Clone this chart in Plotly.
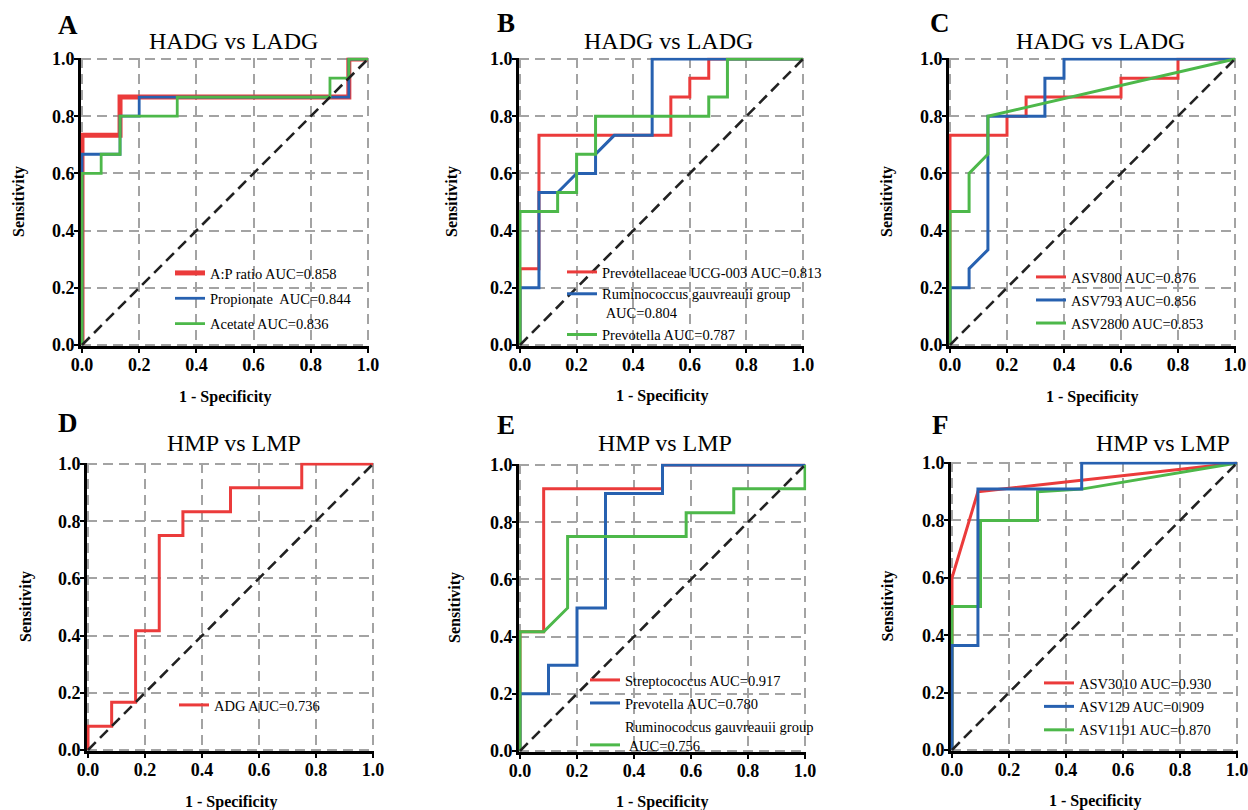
import plotly.graph_objects as go

# ---------------- data ----------------
# Panel A: HADG vs LADG (VFA)
a_ratio_x = [0, 0, 0.133, 0.133, 0.933, 0.933, 1]
a_ratio_y = [0, 0.733, 0.733, 0.867, 0.867, 1, 1]
a_prop_x = [0, 0, 0.133, 0.133, 0.2, 0.2, 0.933, 0.933, 1]
a_prop_y = [0, 0.667, 0.667, 0.8, 0.8, 0.867, 0.867, 1, 1]
a_acet_x = [0, 0, 0.067, 0.067, 0.133, 0.133, 0.333, 0.333, 0.867, 0.867, 0.933, 0.933, 1]
a_acet_y = [0, 0.6, 0.6, 0.667, 0.667, 0.8, 0.8, 0.867, 0.867, 0.933, 0.933, 1, 1]
a_names = ["A:P ratio AUC=0.858", "Propionate  AUC=0.844", "Acetate AUC=0.836"]

# Panel B: HADG vs LADG (genera)
b_ucg_x = [0, 0, 0.067, 0.067, 0.533, 0.533, 0.6, 0.6, 0.667, 0.667, 1]
b_ucg_y = [0, 0.267, 0.267, 0.733, 0.733, 0.867, 0.867, 0.933, 0.933, 1, 1]
b_rum_x = [0, 0, 0.067, 0.067, 0.133, 0.2, 0.267, 0.267, 0.333, 0.467, 0.467, 1]
b_rum_y = [0, 0.2, 0.2, 0.533, 0.533, 0.6, 0.6, 0.667, 0.733, 0.733, 1, 1]
b_prev_x = [0, 0, 0.133, 0.133, 0.2, 0.2, 0.267, 0.267, 0.667, 0.667, 0.733, 0.733, 1]
b_prev_y = [0, 0.467, 0.467, 0.533, 0.533, 0.667, 0.667, 0.8, 0.8, 0.867, 0.867, 1, 1]
b_names = ["Prevotellaceae UCG-003 AUC=0.813",
           "Ruminococcus gauvreauii group<br>\u00a0AUC=0.804",
           "Prevotella AUC=0.787"]

# Panel C: HADG vs LADG (ASVs)
c_800_x = [0, 0, 0.2, 0.2, 0.267, 0.267, 0.6, 0.6, 0.8, 0.8, 1]
c_800_y = [0, 0.733, 0.733, 0.8, 0.8, 0.867, 0.867, 0.933, 0.933, 1, 1]
c_793_x = [0, 0, 0.067, 0.067, 0.133, 0.133, 0.333, 0.333, 0.4, 0.4, 1]
c_793_y = [0, 0.2, 0.2, 0.267, 0.333, 0.8, 0.8, 0.933, 0.933, 1, 1]
c_2800_x = [0, 0, 0.067, 0.067, 0.133, 0.133, 1]
c_2800_y = [0, 0.467, 0.467, 0.6, 0.667, 0.8, 1]
c_names = ["ASV800 AUC=0.876", "ASV793 AUC=0.856", "ASV2800 AUC=0.853"]

# Panel D: HMP vs LMP (ADG)
d_adg_x = [0, 0, 0.083, 0.083, 0.167, 0.167, 0.25, 0.25, 0.333, 0.333, 0.5, 0.5, 0.75, 0.75, 1]
d_adg_y = [0, 0.083, 0.083, 0.167, 0.167, 0.417, 0.417, 0.75, 0.75, 0.833, 0.833, 0.917, 0.917, 1, 1]
d_names = ["ADG AUC=0.736"]

# Panel E: HMP vs LMP (genera)
e_strep_x = [0, 0, 0.083, 0.083, 0.5, 0.5, 1]
e_strep_y = [0, 0.417, 0.417, 0.917, 0.917, 1, 1]
e_prev_x = [0, 0, 0.1, 0.1, 0.2, 0.2, 0.3, 0.3, 0.5, 0.5, 1]
e_prev_y = [0, 0.2, 0.2, 0.3, 0.3, 0.5, 0.5, 0.9, 0.9, 1, 1]
e_rum_x = [0, 0, 0.083, 0.167, 0.167, 0.583, 0.583, 0.75, 0.75, 1, 1]
e_rum_y = [0, 0.417, 0.417, 0.5, 0.75, 0.75, 0.833, 0.833, 0.917, 0.917, 1]
e_names = ["Streptococcus AUC=0.917", "Prevotella AUC=0.780",
           "Ruminococcus gauvreauii group<br>\u00a0AUC=0.756"]

# Panel F: HMP vs LMP (ASVs)
f_3010_x = [0, 0, 0.091, 1]
f_3010_y = [0, 0.6, 0.9, 1]
f_129_x = [0, 0, 0.091, 0.091, 0.455, 0.455, 1]
f_129_y = [0, 0.364, 0.364, 0.909, 0.909, 1, 1]
f_1191_x = [0, 0, 0.1, 0.1, 0.3, 0.3, 0.455, 1]
f_1191_y = [0, 0.5, 0.5, 0.8, 0.8, 0.9, 0.909, 1]
f_names = ["ASV3010 AUC=0.930", "ASV129 AUC=0.909", "ASV1191 AUC=0.870"]

diag_x = [0, 1]
diag_y = [0, 1]
tick_vals = [0, 0.2, 0.4, 0.6, 0.8, 1.0]

# ---------------- styling / layout ----------------
W, H = 1248, 810
SERIF = "Liberation Serif, Times New Roman, serif"
RED, BLUE, GREEN = "#EB3B3B", "#2761B0", "#4DB84A"
GRID = "#A3A3A3"

panels = [
    dict(letter="A", title="HADG vs LADG", box=(82, 368, 59, 345),
         series=[(a_names[0], a_ratio_x, a_ratio_y, RED, 5.0, 1),
                 (a_names[1], a_prop_x, a_prop_y, BLUE, 2.8, 2),
                 (a_names[2], a_acet_x, a_acet_y, GREEN, 2.8, 3)],
         letter_pos=(68, 25), title_pos=(233, 41), ytitle_x=19, xtitle=(225, 397),
         legend=(170, 257), gap=3.5, valign="middle"),
    dict(letter="B", title="HADG vs LADG", box=(520, 803, 59, 345),
         series=[(b_names[0], b_ucg_x, b_ucg_y, RED, 3, 1),
                 (b_names[1], b_rum_x, b_rum_y, BLUE, 3, 2),
                 (b_names[2], b_prev_x, b_prev_y, GREEN, 3, 3)],
         letter_pos=(506, 23), title_pos=(668, 41), ytitle_x=452, xtitle=(662, 396),
         legend=(562, 256), gap=0, valign="top"),
    dict(letter="C", title="HADG vs LADG", box=(950, 1235, 59, 345),
         series=[(c_names[0], c_800_x, c_800_y, RED, 3, 1),
                 (c_names[1], c_793_x, c_793_y, BLUE, 3, 2),
                 (c_names[2], c_2800_x, c_2800_y, GREEN, 3, 3)],
         letter_pos=(940, 23), title_pos=(1100, 41), ytitle_x=887, xtitle=(1092, 397),
         legend=(1031, 261), gap=1.2, valign="middle"),
    dict(letter="D", title="HMP vs LMP", box=(88, 373, 464, 750),
         series=[(d_names[0], d_adg_x, d_adg_y, RED, 3, 1)],
         letter_pos=(68, 423), title_pos=(234, 443), ytitle_x=26, xtitle=(231, 802),
         legend=(174, 689), gap=1.2, valign="middle"),
    dict(letter="E", title="HMP vs LMP", box=(520, 805, 465, 751),
         series=[(e_names[0], e_strep_x, e_strep_y, RED, 3, 1),
                 (e_names[1], e_prev_x, e_prev_y, BLUE, 3, 2),
                 (e_names[2], e_rum_x, e_rum_y, GREEN, 3, 3)],
         letter_pos=(506, 425), title_pos=(665, 443), ytitle_x=455, xtitle=(662, 802),
         legend=(585, 664), gap=1.2, valign="bottom"),
    dict(letter="F", title="HMP vs LMP", box=(952, 1237, 463, 750),
         series=[(f_names[0], f_3010_x, f_3010_y, RED, 3, 1),
                 (f_names[2], f_1191_x, f_1191_y, GREEN, 3, 3),
                 (f_names[1], f_129_x, f_129_y, BLUE, 3, 2)],
         letter_pos=(940, 425), title_pos=(1163, 443), ytitle_x=887, xtitle=(1095, 801),
         legend=(1039, 667), gap=1.6, valign="middle"),
]

PAD = 0.004
fig = go.Figure()
annotations = []
layout = dict(autosize=True, margin=dict(l=0, r=0, t=0, b=0, pad=0, autoexpand=False),
              paper_bgcolor="white", plot_bgcolor="white", showlegend=True)

for i, p in enumerate(panels):
    k = "" if i == 0 else str(i + 1)
    x0, x1, yt, yb = p["box"]
    w, h = x1 - x0, yb - yt
    dom_x = [(x0 - PAD * w) / W, (x1 + PAD * w) / W]
    dom_y = [1 - (yb + PAD * h) / H, 1 - (yt - PAD * h) / H]
    ax = dict(range=[-PAD, 1 + PAD], tickvals=tick_vals, tickformat=".1f",
              showgrid=True, gridcolor=GRID, gridwidth=2, griddash="10px,6px",
              zeroline=False, showline=True, linecolor="black", linewidth=2.5,
              ticks="outside", ticklen=4, tickwidth=2, tickcolor="black",
              tickfont=dict(family=SERIF, size=18, color="black", weight="bold"),
              ticklabeloverflow="allow",
              layer="below traces", fixedrange=True, automargin=False)
    layout["xaxis" + k] = dict(ax, domain=dom_x, anchor="y" + k, ticklabelstandoff=-3)
    layout["yaxis" + k] = dict(ax, domain=dom_y, anchor="x" + k, ticklabelstandoff=-4)
    leg = "legend" + k
    lx, ly = p["legend"]
    layout[leg] = dict(x=lx / W, y=1 - ly / H, xanchor="left", yanchor="top",
                       bgcolor="rgba(0,0,0,0)", borderwidth=0,
                       font=dict(family=SERIF, size=14.5, color="black"),
                       tracegroupgap=p["gap"], traceorder="grouped",
                       valign=p["valign"], itemclick=False, itemdoubleclick=False)
    for name, xs, ys, col, lw, rank in p["series"]:
        fig.add_trace(go.Scatter(x=xs, y=ys, mode="lines", name=name,
                                 line=dict(color=col, width=lw),
                                 xaxis="x" + k, yaxis="y" + k, legend=leg,
                                 legendgroup=f"{p['letter']}{rank}", legendrank=rank,
                                 hoverinfo="skip"))
    fig.add_trace(go.Scatter(x=diag_x, y=diag_y, mode="lines", showlegend=False,
                             line=dict(color="#222222", width=2.6, dash="11px,6px"),
                             xaxis="x" + k, yaxis="y" + k, hoverinfo="skip"))
    annotations.append(dict(text=p["letter"], x=p["letter_pos"][0] / W, y=1 - p["letter_pos"][1] / H,
                            xref="paper", yref="paper", showarrow=False,
                            xanchor="center", yanchor="middle",
                            font=dict(family=SERIF, size=27, color="black", weight="bold")))
    annotations.append(dict(text=p["title"], x=p["title_pos"][0] / W, y=1 - p["title_pos"][1] / H,
                            xref="paper", yref="paper", showarrow=False,
                            xanchor="center", yanchor="middle",
                            font=dict(family=SERIF, size=24, color="black")))
    annotations.append(dict(text="Sensitivity", x=p["ytitle_x"] / W, y=1 - ((yt + yb) / 2) / H,
                            xref="paper", yref="paper", showarrow=False, textangle=-90,
                            xanchor="center", yanchor="middle",
                            font=dict(family=SERIF, size=16, color="black", weight="bold")))
    annotations.append(dict(text="1 - Specificity", x=p["xtitle"][0] / W, y=1 - p["xtitle"][1] / H,
                            xref="paper", yref="paper", showarrow=False,
                            xanchor="center", yanchor="middle",
                            font=dict(family=SERIF, size=16, color="black", weight="bold")))

layout["annotations"] = annotations
fig.update_layout(**layout)

# the plot div is pinned to the page corner so the browser's default body margin does not shift it
fig.write_html("out.html", config={"displayModeBar": False},
               default_width=f"{W}px",
               default_height=f"{H}px; position:absolute; top:0; left:0")
